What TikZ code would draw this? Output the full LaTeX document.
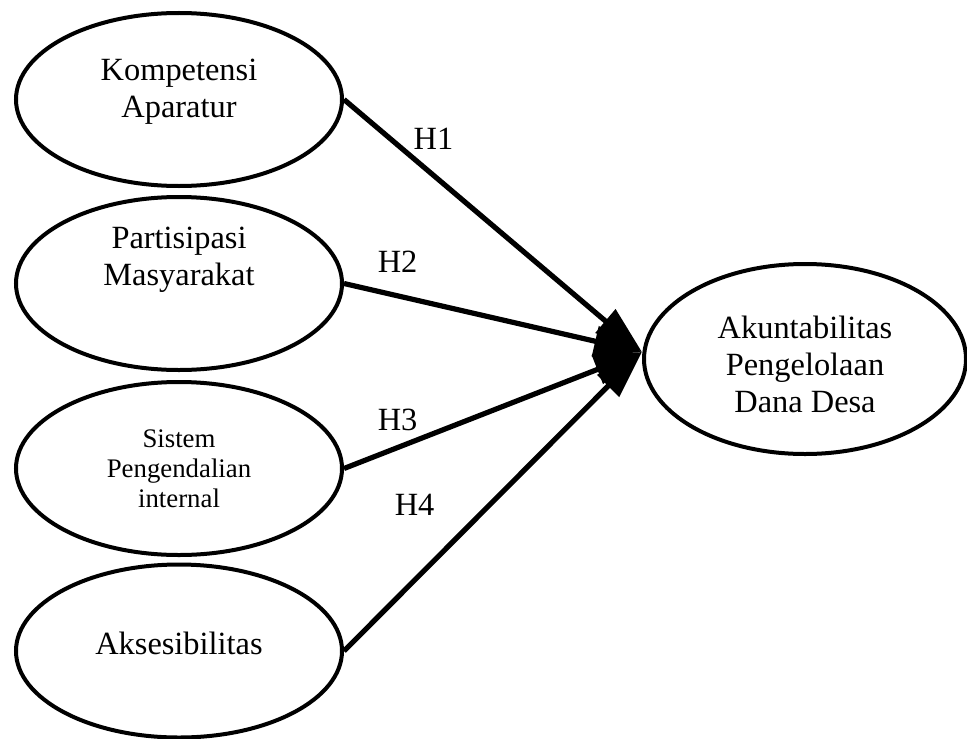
\documentclass[tikz,border=0pt]{standalone}
\usepackage{fontspec}
\setmainfont{Liberation Serif}
\usetikzlibrary{shapes.geometric,arrows.meta}

\begin{document}
\begin{tikzpicture}[x=0.5pt,y=-0.5pt]
	\tikzstyle{var}=[draw,ellipse,line width=2pt,inner sep=0pt,minimum width=163pt,minimum height=86.5pt]
	\tikzstyle{txt}=[align=center,inner sep=0pt,font=\fontsize{16.2}{18.5}\selectfont]
	\tikzstyle{hlab}=[inner sep=0pt,font=\fontsize{16.2}{18.5}\selectfont]
	\tikzstyle{hyp}=[line width=2.6pt,-{Triangle[length=24pt,width=15pt]}]
	\useasboundingbox (0,0) rectangle (967,738);

	\node[var] (komp) at (179,99.5) {};
	\node[var] (part) at (179,283.5) {};
	\node[var] (spi) at (179,468.5) {};
	\node[var] (akses) at (179,651) {};
	\node[var,minimum width=161pt,minimum height=95pt] (akun) at (805,359) {};

	\node[txt] (kompT) at ([yshift=4pt]komp) {Kompetensi\\Aparatur};
	\node[txt] (partT) at ([yshift=11.75pt]part) {Partisipasi\\Masyarakat};
	\node[txt,font=\fontsize{13.4}{15}\selectfont] (spiT) at (spi) {Sistem\\Pengendalian\\internal};
	\node[txt] (aksesT) at ([yshift=4pt]akses) {Aksesibilitas};
	\node[txt] (akunT) at ([yshift=-2.5pt]akun) {Akuntabilitas\\Pengelolaan\\Dana Desa};

	\coordinate (tip) at ([yshift=3.5pt]akun.west);
	\draw[hyp] (komp.east) -- node[hlab,pos=0.3,above=11.75pt] (h1) {H1} (tip);
	\draw[hyp] (part.east) -- node[hlab,pos=0.18,above=10.5pt] (h2) {H2} (tip);
	\draw[hyp] (spi.east) -- node[hlab,pos=0.18,above=7pt] (h3) {H3} (tip);
	\draw[hyp] (akses.east) -- node[hlab,pos=0.49,left=26.5pt] (h4) {H4} (tip);
\end{tikzpicture}
\end{document}
